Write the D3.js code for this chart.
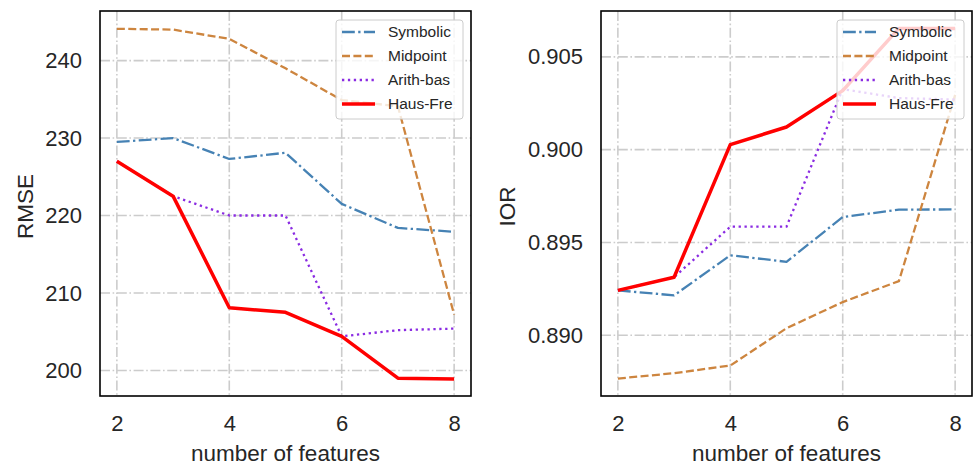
<!DOCTYPE html>
<html>
<head>
<meta charset="utf-8">
<script src="https://cdn.jsdelivr.net/npm/d3@7"></script>
<style>
  body { margin: 0; background: #fff; }
  svg { display: block; font-family: "Liberation Sans", Arial, sans-serif; }
</style>
</head>
<body>
<svg id="chart" width="973" height="465"></svg>
<script>
const features = [2, 3, 4, 5, 6, 7, 8];
const seriesNames = ["Symbolic", "Midpoint", "Arith-bas", "Haus-Fre"];
const xTicks = [2, 4, 6, 8];

// Left panel: RMSE
const rmseSymbolic = [229.5, 230.0, 227.3, 228.1, 221.5, 218.4, 217.9];
const rmseMidpoint = [244.1, 244.0, 242.8, 239.0, 234.9, 234.1, 207.2];
const rmseArith    = [227.0, 222.5, 220.0, 220.0, 204.4, 205.2, 205.4];
const rmseHaus     = [227.0, 222.5, 208.1, 207.5, 204.4, 199.0, 198.9];
const rmseTicks = [200, 210, 220, 230, 240];

// Right panel: IOR
const iorSymbolic = [0.89242, 0.89215, 0.89431, 0.89396, 0.89637, 0.89677, 0.89678];
const iorMidpoint = [0.88767, 0.88796, 0.88837, 0.89038, 0.89179, 0.89292, 0.90295];
const iorArith    = [0.89242, 0.89313, 0.89585, 0.89585, 0.90326, 0.90278, 0.90270];
const iorHaus     = [0.89242, 0.89313, 0.90027, 0.90122, 0.90318, 0.90653, 0.90653];
const iorTicks = [0.890, 0.895, 0.900, 0.905];

const styles = {
  "Symbolic":  { color: "#4682b4", width: 2.3, dash: "12.8,3.4,2.3,3.4" },
  "Midpoint":  { color: "#cd853f", width: 2.3, dash: "8,3.4" },
  "Arith-bas": { color: "#8a2be2", width: 2.3, dash: "2.3,3.6" },
  "Haus-Fre":  { color: "#ff0000", width: 3.5, dash: null }
};

const svg = d3.select("#chart");
const textColor = "#262626";

function panel(opts) {
  const { left, right, top, bottom, yDomain, yTicks, yFormat, yLabel, yLabelX, series } = opts;
  const x = d3.scaleLinear().domain([1.7, 8.3]).range([left, right]);
  const y = d3.scaleLinear().domain(yDomain).range([bottom, top]);
  const g = svg.append("g");

  // grid
  const grid = g.append("g").attr("stroke", "#cccccc").attr("stroke-width", 1.6)
    .attr("stroke-dasharray", "10,2.6,1.6,2.6");
  grid.selectAll("line.h").data(yTicks).join("line")
    .attr("x1", left).attr("x2", right)
    .attr("y1", d => y(d)).attr("y2", d => y(d));
  grid.selectAll("line.v").data(xTicks).join("line")
    .attr("y1", top).attr("y2", bottom)
    .attr("x1", d => x(d)).attr("x2", d => x(d));

  // axes (labels only)
  const xAxis = g.append("g").attr("transform", `translate(0,${bottom})`)
    .call(d3.axisBottom(x).tickValues(xTicks).tickSize(0).tickPadding(19).tickFormat(d3.format("d")));
  const yAxis = g.append("g").attr("transform", `translate(${left},0)`)
    .call(d3.axisLeft(y).tickValues(yTicks).tickSize(0).tickPadding(18).tickFormat(yFormat));
  [xAxis, yAxis].forEach(a => {
    a.select(".domain").remove();
    a.selectAll("text").attr("font-size", 22).attr("fill", textColor)
      .attr("font-family", "'Liberation Sans', Arial, sans-serif");
  });

  // lines
  const line = d3.line().x((d, i) => x(features[i])).y(d => y(d));
  series.forEach((vals, i) => {
    const s = styles[seriesNames[i]];
    g.append("path").datum(vals)
      .attr("d", line)
      .attr("fill", "none")
      .attr("stroke", s.color)
      .attr("stroke-width", s.width)
      .attr("stroke-dasharray", s.dash)
      .attr("stroke-linejoin", "round");
  });

  // legend
  const lgX = right - 135, lgY = top + 9, lgW = 127, lgH = 99;
  const lg = g.append("g");
  lg.append("rect").attr("x", lgX).attr("y", lgY).attr("width", lgW).attr("height", lgH)
    .attr("rx", 3).attr("fill", "#ffffff").attr("fill-opacity", 0.8)
    .attr("stroke", "#cccccc").attr("stroke-width", 1);
  seriesNames.forEach((name, i) => {
    const s = styles[name];
    const cy = lgY + 12 + i * 24;
    lg.append("line").attr("x1", lgX + 6).attr("x2", lgX + 39)
      .attr("y1", cy).attr("y2", cy)
      .attr("stroke", s.color).attr("stroke-width", s.width)
      .attr("stroke-dasharray", s.dash);
    lg.append("text").attr("x", lgX + 52).attr("y", cy).attr("dy", "0.35em")
      .attr("font-size", 15.5).attr("fill", textColor).text(name);
  });

  // frame
  g.append("rect").attr("x", left).attr("y", top)
    .attr("width", right - left).attr("height", bottom - top)
    .attr("fill", "none").attr("stroke", "#000").attr("stroke-width", 1.6);

  // labels
  g.append("text").attr("x", (left + right) / 2).attr("y", 461)
    .attr("text-anchor", "middle").attr("font-size", 22.5).attr("fill", textColor)
    .text("number of features");
  g.append("text").attr("transform", `translate(${yLabelX},${(top + bottom) / 2 + 3}) rotate(-90)`)
    .attr("text-anchor", "middle").attr("font-size", 22.5).attr("fill", textColor)
    .text(yLabel);
}

panel({
  left: 100, right: 471, top: 11, bottom: 396,
  yDomain: [196.7, 246.4], yTicks: rmseTicks, yFormat: d3.format("d"),
  yLabel: "RMSE", yLabelX: 33,
  series: [rmseSymbolic, rmseMidpoint, rmseArith, rmseHaus]
});
panel({
  left: 601, right: 972, top: 11, bottom: 396,
  yDomain: [0.88673, 0.90747], yTicks: iorTicks, yFormat: d3.format(".3f"),
  yLabel: "IOR", yLabelX: 515,
  series: [iorSymbolic, iorMidpoint, iorArith, iorHaus]
});
</script>
</body>
</html>
